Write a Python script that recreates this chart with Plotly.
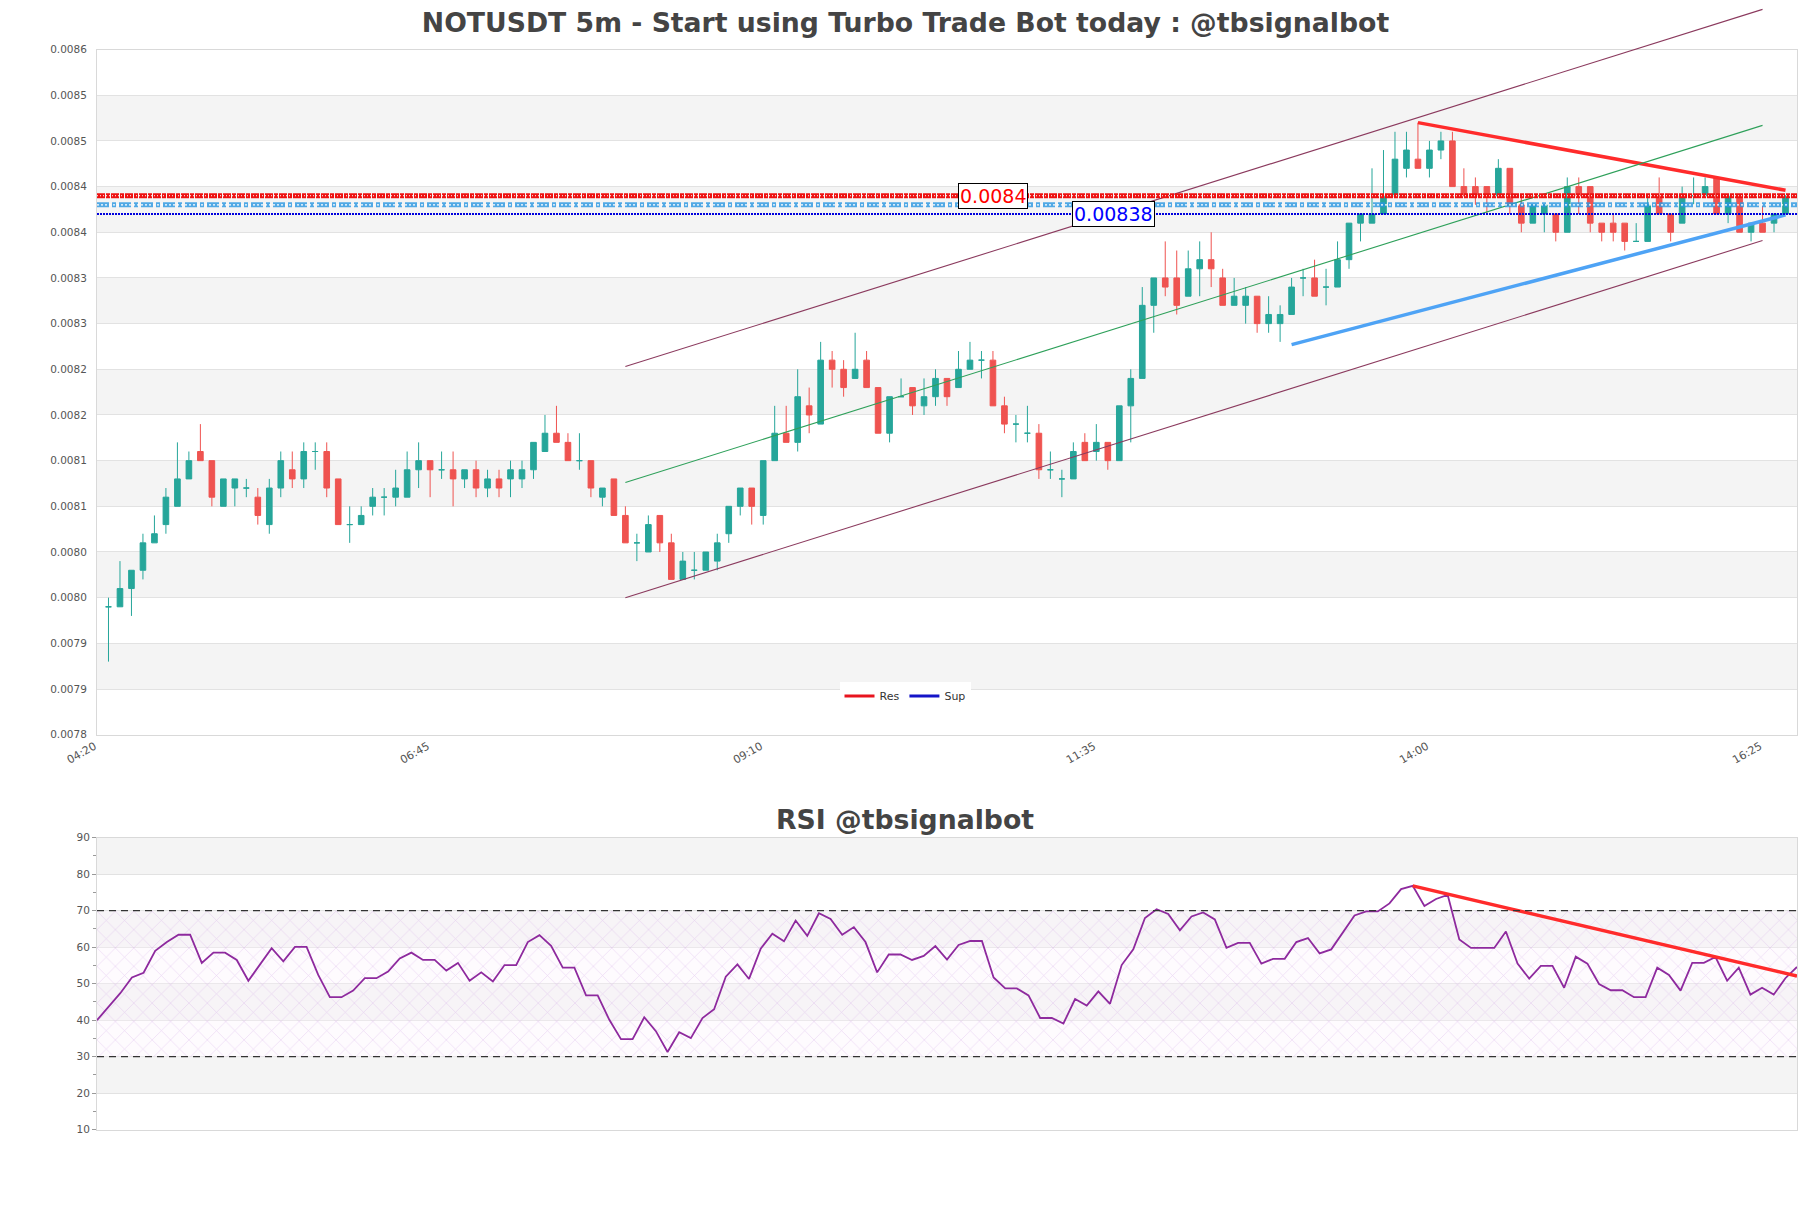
import plotly.graph_objects as go
import pandas as pd

# ---------------- data ----------------
times = list(pd.date_range("2024-06-01 04:20", periods=147, freq="5min").strftime("%H:%M"))

opens = [0.00795,0.00795,0.00797,0.00799,0.00802,0.00804,0.00806,0.00809,0.00812,0.00811,
         0.00806,0.00808,0.00808,0.00807,0.00804,0.00808,0.00810,0.00809,0.00812,0.00812,
         0.00809,0.00804,0.00804,0.00806,0.00807,0.00807,0.00807,0.00810,0.00811,0.00810,
         0.00810,0.00809,0.00810,0.00808,0.00809,0.00809,0.00809,0.00810,0.00812,0.00814,
         0.00813,0.00811,0.00811,0.00807,0.00809,0.00805,0.00802,0.00801,0.00805,0.00802,
         0.00798,0.00799,0.00799,0.00800,0.00803,0.00806,0.00808,0.00805,0.00811,0.00814,
         0.00813,0.00817,0.00815,0.00822,0.00821,0.00820,0.00822,0.00819,0.00814,0.00818,
         0.00819,0.00817,0.00818,0.00820,0.00819,0.00821,0.00822,0.00822,0.00817,0.00815,
         0.00814,0.00814,0.00810,0.00809,0.00809,0.00813,0.00812,0.00813,0.00811,0.00817,
         0.00820,0.00828,0.00831,0.00831,0.00829,0.00832,0.00833,0.00831,0.00828,0.00828,
         0.00829,0.00826,0.00826,0.00827,0.00831,0.00831,0.00830,0.00830,0.00833,0.00837,
         0.00837,0.00838,0.00840,0.00843,0.00844,0.00843,0.00845,0.00846,0.00841,0.00841,
         0.00841,0.00840,0.00843,0.00839,0.00837,0.00838,0.00838,0.00836,0.00841,0.00841,
         0.00837,0.00837,0.00837,0.00835,0.00835,0.00840,0.00838,0.00837,0.00840,0.00840,
         0.00842,0.00838,0.00840,0.00836,0.00837,0.00837,0.00838]
highs = [0.00796,0.00800,0.00799,0.00803,0.00805,0.00808,0.00813,0.00812,0.00815,0.00811,
         0.00809,0.00809,0.00809,0.00808,0.00809,0.00812,0.00812,0.00813,0.00813,0.00813,
         0.00809,0.00806,0.00806,0.00808,0.00808,0.00810,0.00812,0.00813,0.00811,0.00812,
         0.00812,0.00810,0.00811,0.00810,0.00810,0.00811,0.00811,0.00813,0.00816,0.00817,
         0.00814,0.00814,0.00811,0.00808,0.00809,0.00806,0.00803,0.00805,0.00805,0.00803,
         0.00801,0.00801,0.00801,0.00803,0.00806,0.00808,0.00808,0.00811,0.00817,0.00817,
         0.00821,0.00819,0.00824,0.00823,0.00822,0.00825,0.00823,0.00819,0.00818,0.00820,
         0.00819,0.00820,0.00821,0.00820,0.00823,0.00824,0.00823,0.00823,0.00818,0.00816,
         0.00817,0.00815,0.00812,0.00810,0.00813,0.00814,0.00815,0.00813,0.00817,0.00821,
         0.00830,0.00831,0.00835,0.00834,0.00834,0.00835,0.00836,0.00832,0.00831,0.00830,
         0.00829,0.00829,0.00828,0.00831,0.00832,0.00833,0.00832,0.00835,0.00837,0.00838,
         0.00843,0.00845,0.00847,0.00847,0.00848,0.00846,0.00847,0.00847,0.00843,0.00842,
         0.00841,0.00844,0.00843,0.00840,0.00839,0.00839,0.00838,0.00842,0.00842,0.00841,
         0.00837,0.00838,0.00837,0.00837,0.00840,0.00842,0.00838,0.00841,0.00842,0.00842,
         0.00842,0.00840,0.00840,0.00837,0.00839,0.00838,0.00840]
lows = [0.00789,0.00795,0.00794,0.00798,0.00802,0.00803,0.00806,0.00809,0.00811,0.00806,
        0.00806,0.00806,0.00807,0.00804,0.00803,0.00807,0.00808,0.00808,0.00810,0.00807,
        0.00804,0.00802,0.00804,0.00805,0.00805,0.00806,0.00807,0.00808,0.00807,0.00809,
        0.00806,0.00808,0.00807,0.00807,0.00807,0.00807,0.00808,0.00809,0.00812,0.00813,
        0.00811,0.00810,0.00807,0.00806,0.00805,0.00802,0.00800,0.00801,0.00801,0.00798,
        0.00798,0.00798,0.00799,0.00799,0.00802,0.00805,0.00804,0.00804,0.00811,0.00813,
        0.00812,0.00814,0.00815,0.00819,0.00818,0.00820,0.00819,0.00814,0.00813,0.00818,
        0.00816,0.00816,0.00817,0.00817,0.00819,0.00821,0.00820,0.00817,0.00814,0.00813,
        0.00813,0.00809,0.00809,0.00807,0.00809,0.00811,0.00811,0.00810,0.00811,0.00813,
        0.00820,0.00825,0.00829,0.00827,0.00829,0.00829,0.00830,0.00828,0.00828,0.00826,
        0.00825,0.00825,0.00824,0.00827,0.00829,0.00829,0.00828,0.00830,0.00832,0.00835,
        0.00837,0.00838,0.00840,0.00842,0.00843,0.00842,0.00844,0.00841,0.00840,0.00839,
        0.00838,0.00840,0.00838,0.00836,0.00837,0.00836,0.00835,0.00836,0.00838,0.00836,
        0.00835,0.00835,0.00834,0.00835,0.00835,0.00838,0.00835,0.00837,0.00839,0.00840,
        0.00838,0.00837,0.00836,0.00835,0.00836,0.00836,0.00838]
closes = [0.00795,0.00797,0.00799,0.00802,0.00803,0.00807,0.00809,0.00811,0.00811,0.00807,
          0.00809,0.00809,0.00808,0.00805,0.00808,0.00811,0.00809,0.00812,0.00812,0.00808,
          0.00804,0.00804,0.00805,0.00807,0.00807,0.00808,0.00810,0.00811,0.00810,0.00810,
          0.00809,0.00810,0.00808,0.00809,0.00808,0.00810,0.00810,0.00813,0.00814,0.00813,
          0.00811,0.00811,0.00808,0.00808,0.00805,0.00802,0.00802,0.00804,0.00802,0.00798,
          0.00800,0.00799,0.00801,0.00802,0.00806,0.00808,0.00806,0.00811,0.00814,0.00813,
          0.00818,0.00816,0.00822,0.00821,0.00819,0.00821,0.00819,0.00814,0.00818,0.00818,
          0.00817,0.00818,0.00820,0.00818,0.00821,0.00822,0.00822,0.00817,0.00815,0.00815,
          0.00814,0.00810,0.00810,0.00809,0.00812,0.00811,0.00813,0.00811,0.00817,0.00820,
          0.00828,0.00831,0.00830,0.00828,0.00832,0.00833,0.00832,0.00828,0.00829,0.00829,
          0.00826,0.00827,0.00827,0.00830,0.00831,0.00829,0.00830,0.00833,0.00837,0.00838,
          0.00838,0.00840,0.00844,0.00845,0.00843,0.00845,0.00846,0.00841,0.00840,0.00840,
          0.00840,0.00843,0.00839,0.00837,0.00839,0.00839,0.00836,0.00841,0.00840,0.00837,
          0.00836,0.00836,0.00835,0.00835,0.00839,0.00838,0.00836,0.00840,0.00840,0.00841,
          0.00838,0.00840,0.00836,0.00837,0.00836,0.00838,0.00840]

rsi = [40,43.8,47.4,51.7,53,59,61.4,63.4,63.4,55.7,
       58.5,58.5,56.5,50.8,55.4,59.7,56.1,60.1,60.1,52.4,
       46.3,46.3,48.1,51.5,51.5,53.3,56.9,58.5,56.5,56.5,
       53.6,55.7,50.8,53.1,50.6,55.1,55.1,61.4,63.3,60.4,
       54.4,54.4,46.8,46.8,40.1,34.8,34.8,40.8,37,31.3,
       36.7,35.1,40.6,43,51.9,55.3,51.3,59.6,63.7,61.6,
       67.3,63.1,69.3,67.7,63.4,65.5,61.4,53.1,58,58,
       56.5,57.6,60.3,56.6,60.6,61.7,61.7,51.7,48.7,48.7,
       46.8,40.6,40.6,39.1,45.8,44,47.9,44.5,55.1,59.4,
       68,70.4,69.1,64.6,68.4,69.5,67.6,59.8,61.2,61.2,
       55.5,56.8,56.8,61.4,62.5,58.3,59.4,63.9,68.7,69.8,
       69.8,72,75.9,76.8,71.3,73.2,74.3,62.1,59.8,59.8,
       59.8,64.3,55.5,51.4,54.9,54.9,48.9,57.4,55.5,49.9,
       48.2,48.2,46.3,46.3,54.4,52.4,48.1,55.7,55.7,57.3,
       50.8,54.4,47,48.9,47,51.5,54.6]

x_tick_labels = ["04:20", "06:45", "09:10", "11:35", "14:00", "16:25"]
y_tick_labels = ["0.0078", "0.0079", "0.0079", "0.0080", "0.0080", "0.0081", "0.0081", "0.0082",
                 "0.0082", "0.0083", "0.0083", "0.0084", "0.0084", "0.0085", "0.0085", "0.0086"]
price_min, price_max = 0.00781, 0.00856

res_level = 0.0084
sup_level = 0.00838
mid_level = 0.00839
res_label = "0.0084"
sup_label = "0.00838"

channel_idx = [45, 144]
channel_upper = [0.008213, 0.008604]
channel_mid = [0.008086, 0.008477]
channel_lower = [0.007960, 0.008351]

res_trend_idx = [114, 146]
res_trend_val = [0.00848, 0.008406]
sup_trend_idx = [103, 146]
sup_trend_val = [0.008237, 0.008379]

rsi_trend_idx = [113, 146]
rsi_trend_val = [76.8, 52.1]
rsi_levels = [30, 70]

# ---------------- geometry ----------------
W, H = 1811, 1208
main_dom = [1 - 736 / H, 1 - 44 / H]
rsi_dom = [1 - 1135 / H, 1 - 840 / H]
ext_dom = [main_dom[0], 1.0]
ext_max = price_min + (price_max - price_min) * (ext_dom[1] - ext_dom[0]) / (main_dom[1] - main_dom[0])

UP, DOWN = "#26a69a", "#ef5350"
FONT = "DejaVu Sans"

fig = go.Figure()

# candles split by colour (doji -> up colour)
up_i = [i for i in range(len(times)) if closes[i] >= opens[i]]
dn_i = [i for i in range(len(times)) if closes[i] < opens[i]]
for idx, col in ((up_i, UP), (dn_i, DOWN)):
    fig.add_trace(go.Candlestick(
        x=[times[i] for i in idx], open=[opens[i] for i in idx], high=[highs[i] for i in idx],
        low=[lows[i] for i in idx], close=[closes[i] for i in idx],
        increasing=dict(line=dict(color=col, width=1), fillcolor=col),
        decreasing=dict(line=dict(color=col, width=1), fillcolor=col),
        whiskerwidth=0, showlegend=False, xaxis="x", yaxis="y", hoverinfo="skip"))

# channel lines on extended axis (not clipped at top)
for vals, col in ((channel_upper, "#8b3a5e"), (channel_mid, "#2ea05a"), (channel_lower, "#8b3a5e")):
    fig.add_trace(go.Scatter(x=[times[i] for i in channel_idx], y=vals, mode="lines",
                             line=dict(color=col, width=1.1), xaxis="x", yaxis="y3",
                             showlegend=False, hoverinfo="skip"))

# trend lines
fig.add_trace(go.Scatter(x=[times[i] for i in res_trend_idx], y=res_trend_val, mode="lines",
                         line=dict(color="#ff2b2b", width=3.5), xaxis="x", yaxis="y",
                         showlegend=False, hoverinfo="skip"))
fig.add_trace(go.Scatter(x=[times[i] for i in sup_trend_idx], y=sup_trend_val, mode="lines",
                         line=dict(color="#4ea3f5", width=3.5), xaxis="x", yaxis="y",
                         showlegend=False, hoverinfo="skip"))

# legend entries
fig.add_trace(go.Scatter(x=[None], y=[None], mode="lines", name="Res",
                         line=dict(color="#e8141e", width=3), xaxis="x", yaxis="y"))
fig.add_trace(go.Scatter(x=[None], y=[None], mode="lines", name="Sup",
                         line=dict(color="#1414c8", width=3), xaxis="x", yaxis="y"))

# RSI hatch zone
fig.add_trace(go.Scatter(x=[times[0], times[-1], times[-1], times[0], times[0]],
                         y=[rsi_levels[0], rsi_levels[0], rsi_levels[1], rsi_levels[1], rsi_levels[0]],
                         mode="lines", line=dict(width=0), fill="toself",
                         fillcolor="rgba(0,0,0,0)",
                         fillpattern=dict(shape="x", fgcolor="rgba(205,160,230,0.8)",
                                          bgcolor="rgba(250,244,252,0.35)", size=13, solidity=0.1),
                         xaxis="x2", yaxis="y2", showlegend=False, hoverinfo="skip"))
# RSI line
fig.add_trace(go.Scatter(x=times, y=rsi, mode="lines", line=dict(color="#8e2a9e", width=1.8),
                         xaxis="x2", yaxis="y2", showlegend=False, hoverinfo="skip"))
fig.add_trace(go.Scatter(x=[times[i] for i in rsi_trend_idx], y=rsi_trend_val, mode="lines",
                         line=dict(color="#ff2b2b", width=3.5), xaxis="x2", yaxis="y2",
                         showlegend=False, hoverinfo="skip"))

shapes = []
step = (price_max - price_min) / 15
for k in range(1, 15, 2):
    shapes.append(dict(type="rect", xref="x domain", yref="y", x0=0, x1=1,
                       y0=price_min + k * step, y1=price_min + (k + 1) * step,
                       fillcolor="#f4f4f4", line=dict(width=0), layer="below"))
for k in range(20, 90, 20):
    shapes.append(dict(type="rect", xref="x2 domain", yref="y2", x0=0, x1=1, y0=k, y1=k + 10,
                       fillcolor="#f4f4f4", line=dict(width=0), layer="below"))
for lv in rsi_levels:
    shapes.append(dict(type="line", xref="x2 domain", yref="y2", x0=0, x1=1, y0=lv, y1=lv,
                       line=dict(color="#333", width=1.3, dash="7px,5px")))
# support / resistance bands
shapes.append(dict(type="line", xref="x domain", yref="y", x0=0, x1=1, y0=mid_level, y1=mid_level,
                   line=dict(color="rgba(40,150,225,0.8)", width=5, dash="12px,3px,4px,3px")))
shapes.append(dict(type="line", xref="x domain", yref="y", x0=0, x1=1, y0=mid_level, y1=mid_level,
                   line=dict(color="white", width=1.3, dash="2px,2px")))
shapes.append(dict(type="line", xref="x domain", yref="y", x0=0, x1=1, y0=res_level, y1=res_level,
                   line=dict(color="#ee1111", width=5, dash="8px,1px,4px,1px")))
shapes.append(dict(type="line", xref="x domain", yref="y", x0=0, x1=1, y0=res_level, y1=res_level,
                   line=dict(color="white", width=1, dash="1px,2px")))
shapes.append(dict(type="line", xref="x domain", yref="y", x0=0, x1=1, y0=sup_level, y1=sup_level,
                   line=dict(color="#0000dd", width=2, dash="2px,1px")))

annotations = [
    dict(x=77, y=res_level, xref="x", yref="y", text=res_label, showarrow=False,
         font=dict(color="#ff0000", size=19, family=FONT), bgcolor="white",
         bordercolor="black", borderwidth=1, borderpad=1),
    dict(x=87.5, y=sup_level, xref="x", yref="y", text=sup_label, showarrow=False,
         font=dict(color="#0000ff", size=19, family=FONT), bgcolor="white",
         bordercolor="black", borderwidth=1, borderpad=1),
    dict(x=(905 - 97) / 1700, y=1 - 822 / H, xref="paper", yref="paper",
         text="<b>RSI @tbsignalbot</b>", showarrow=False, yanchor="middle",
         font=dict(color="#444", size=26.7, family=FONT)),
]

fig.update_layout(
    width=W, height=H,
    margin=dict(l=97, r=14, t=0, b=0),
    paper_bgcolor="white", plot_bgcolor="rgba(0,0,0,0)",
    font=dict(family=FONT, color="#555"),
    title=dict(text="<b>NOTUSDT 5m - Start using Turbo Trade Bot today : @tbsignalbot</b>",
               x=0.5, xref="container", xanchor="center",
               y=1 - 23 / H, yref="container", yanchor="middle",
               font=dict(size=26.7, color="#444", family=FONT)),
    showlegend=True,
    legend=dict(orientation="h", x=(905 - 97) / 1700, y=1 - 697 / H, xanchor="center",
                yanchor="middle", bgcolor="white", font=dict(size=11, color="#333"),
                itemwidth=30, tracegroupgap=0),
    xaxis=dict(domain=[0, 1], anchor="y", type="category", range=[-1, len(times)],
               categoryorder="array", categoryarray=times,
               tickmode="array", tickvals=x_tick_labels, ticktext=x_tick_labels,
               tickangle=-30, tickfont=dict(size=11, color="#555"), ticklabelshift=-14,
               showgrid=False, showline=True, linecolor="#d9d9d9", mirror=True,
               rangeslider=dict(visible=False), zeroline=False, fixedrange=True),
    yaxis=dict(domain=main_dom, anchor="x", range=[price_min, price_max],
               tickmode="array", tickvals=[price_min + k * step for k in range(16)],
               ticktext=y_tick_labels, tickfont=dict(size=10.5, color="#555"),
               showgrid=True, gridcolor="#e2e2e2", showline=True, linecolor="#d9d9d9",
               mirror=True, zeroline=False, ticklabelstandoff=7),
    yaxis3=dict(domain=ext_dom, anchor="x", range=[price_min, ext_max], visible=False,
                showgrid=False, zeroline=False),
    xaxis2=dict(domain=[0, 1], anchor="y2", type="category", range=[0, len(times) - 1],
                categoryorder="array", categoryarray=times,
                showticklabels=False, showgrid=False, showline=True, linecolor="#d9d9d9",
                mirror=True, zeroline=False, ticks=""),
    yaxis2=dict(domain=rsi_dom, anchor="x2", range=[10, 90], tickmode="linear", tick0=10, dtick=10,
                tickfont=dict(size=10.5, color="#555"), ticks="outside", ticklen=4,
                tickcolor="#999", showgrid=True, gridcolor="#e2e2e2", showline=True,
                linecolor="#d9d9d9", mirror=True, zeroline=False,
                minor=dict(dtick=5, ticks="outside", ticklen=3, tickcolor="#999", showgrid=False)),
    shapes=shapes,
    annotations=annotations,
)

fig.write_html("out.html", config={"displayModeBar": False},
               post_script="document.body.style.margin='0px';document.body.style.overflow='hidden';")
